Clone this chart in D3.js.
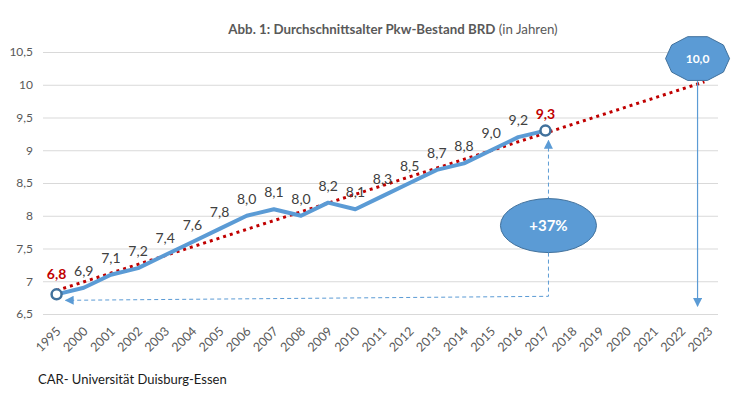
<!DOCTYPE html>
<html>
<head>
<meta charset="utf-8">
<script src="https://cdn.jsdelivr.net/npm/d3@7"></script>
<style>
  body { margin: 0; background: #fff; }
  text { font-family: Lato, "Noto Sans", sans-serif; }
</style>
</head>
<body>
<svg id="chart" width="743" height="395"></svg>
<script>
// categories on the x axis (1995, then 2000 - 2023)
var years = ["1995", "2000", "2001", "2002", "2003", "2004", "2005", "2006", "2007",
  "2008", "2009", "2010", "2011", "2012", "2013", "2014", "2015", "2016", "2017",
  "2018", "2019", "2020", "2021", "2022", "2023"]

// average age of cars, known years only
var dataYears = ["1995", "2000", "2001", "2002", "2003", "2004", "2005", "2006", "2007",
  "2008", "2009", "2010", "2011", "2012", "2013", "2014", "2015", "2016", "2017"]
var ages = [6.8, 6.9, 7.1, 7.2, 7.4, 7.6, 7.8, 8.0, 8.1, 8.0, 8.2, 8.1, 8.3, 8.5, 8.7, 8.8, 9.0, 9.2, 9.3]

var yTicks = [6.5, 7, 7.5, 8, 8.5, 9, 9.5, 10, 10.5]

// callouts
var forecastYear = "2023"
var forecastLabel = "10,0"
var growthLabel = "+37%"

var title = "Abb. 1: Durchschnittsalter Pkw-Bestand BRD"
var titleUnit = " (in Jahren)"
var source = "CAR- Universität Duisburg-Essen"

var margin = { top: 52, left: 43, right: 21, bottom: 81 }
var width = 743 - margin.left - margin.right
var height = 395 - margin.top - margin.bottom

var svg = d3.select("#chart")

var comma = function(v) { return d3.format(".1f")(v).replace(".", ",") }
var commaTick = function(v) { return String(v).replace(".", ",") }

var xPositionScale = d3.scaleBand()
  .domain(years)
  .range([margin.left, margin.left + width])

var yPositionScale = d3.scaleLinear()
  .domain([6.5, 10.5])
  .range([margin.top + height, margin.top])

var cx = function(year) { return xPositionScale(year) + xPositionScale.bandwidth() / 2 }

var points = dataYears.map(function(y, i) { return { year: y, value: ages[i] } })

// linear trend (like excel), computed from the data, extended to 2023
var n = ages.length
var meanI = (n - 1) / 2
var meanV = d3.mean(ages)
var num = d3.sum(ages, function(v, i) { return (i - meanI) * (v - meanV) })
var den = d3.sum(ages, function(v, i) { return (i - meanI) * (i - meanI) })
var slope = num / den
var intercept = meanV - slope * meanI
var lastIndex = years.length - 1
var trendEnd = intercept + slope * lastIndex

// title
var t = svg.append("text")
  .attr("x", 393)
  .attr("y", 34)
  .attr("text-anchor", "middle")
  .attr("font-size", 13.3)
  .attr("fill", "#595959")
t.append("tspan").attr("font-weight", "bold").text(title)
t.append("tspan").text(titleUnit)

// y axis with gridlines
var yAxis = d3.axisLeft(yPositionScale)
  .tickValues(yTicks)
  .tickSize(-(width - 4))
  .tickPadding(10)
  .tickFormat(commaTick)

svg.append("g")
  .attr("class", "axis y-axis")
  .attr("transform", "translate(" + margin.left + ",0)")
  .call(yAxis)
  .call(function(g) { g.select(".domain").remove() })
  .call(function(g) {
    g.selectAll("line").attr("stroke", "#d9d9d9")
    g.selectAll("text").attr("fill", "#595959").attr("font-size", 12)
  })

// x axis labels, rotated
var xAxis = d3.axisBottom(xPositionScale).tickSize(0)
svg.append("g")
  .attr("class", "axis x-axis")
  .attr("transform", "translate(0," + (margin.top + height) + ")")
  .call(xAxis)
  .call(function(g) { g.select(".domain").remove() })
  .call(function(g) {
    g.selectAll("text")
      .attr("fill", "#595959")
      .attr("font-size", 12.5)
      .attr("text-anchor", "end")
      .attr("dy", 0)
      .attr("y", 0)
      .attr("transform", "translate(5,18) rotate(-45)")
  })

// trend line
svg.append("line")
  .attr("x1", cx(years[0]))
  .attr("y1", yPositionScale(intercept))
  .attr("x2", cx(years[lastIndex]) - 4)
  .attr("y2", yPositionScale(trendEnd))
  .attr("stroke", "#c00000")
  .attr("stroke-width", 3)
  .attr("stroke-dasharray", "3,4")

// data line
var line = d3.line()
  .x(function(d) { return cx(d.year) })
  .y(function(d) { return yPositionScale(d.value) })

svg.append("path")
  .datum(points)
  .attr("d", line)
  .attr("fill", "none")
  .attr("stroke", "#5b9bd5")
  .attr("stroke-width", 4)
  .attr("stroke-linejoin", "round")

// arrow markers
var defs = svg.append("defs")
defs.append("marker")
  .attr("id", "arrow")
  .attr("viewBox", "0 0 10 10")
  .attr("refX", 9)
  .attr("refY", 5)
  .attr("markerWidth", 9)
  .attr("markerHeight", 9)
  .attr("markerUnits", "userSpaceOnUse")
  .attr("orient", "auto-start-reverse")
  .append("path")
  .attr("d", "M0,0 L10,5 L0,10 Z")
  .attr("fill", "#5b9bd5")

// dashed elbow arrow between 1995 and 2017
var first = points[0]
var last = points[points.length - 1]
var elbowX = cx(last.year) + 3
var elbowY = yPositionScale(6.77)
svg.append("path")
  .attr("d", "M" + elbowX + "," + (yPositionScale(last.value) + 10) +
    " L" + elbowX + "," + elbowY +
    " L" + (cx(first.year) + 9) + "," + (elbowY + 4))
  .attr("fill", "none")
  .attr("stroke", "#5b9bd5")
  .attr("stroke-width", 1)
  .attr("stroke-dasharray", "4,3")
  .attr("marker-start", "url(#arrow)")
  .attr("marker-end", "url(#arrow)")

// end markers
svg.selectAll(".end-marker")
  .data([first, last])
  .enter()
  .append("circle")
  .attr("class", "end-marker")
  .attr("cx", function(d) { return cx(d.year) })
  .attr("cy", function(d) { return yPositionScale(d.value) })
  .attr("r", 5)
  .attr("fill", "#fff")
  .attr("stroke", "#41719c")
  .attr("stroke-width", 2.5)

// data labels
svg.selectAll(".value-label")
  .data(points)
  .enter()
  .append("text")
  .attr("class", "value-label")
  .attr("x", function(d) { return cx(d.year) })
  .attr("y", function(d, i) { return yPositionScale(d.value) - (i === 0 ? 15 : 12) })
  .attr("text-anchor", "middle")
  .attr("font-size", 14)
  .attr("font-weight", function(d, i) { return (i === 0 || i === points.length - 1) ? "bold" : "normal" })
  .attr("fill", function(d, i) { return (i === 0 || i === points.length - 1) ? "#c00000" : "#404040" })
  .text(function(d) { return comma(d.value) })

// growth ellipse
var growthY = yPositionScale(7.85)
svg.append("ellipse")
  .attr("cx", elbowX)
  .attr("cy", growthY)
  .attr("rx", 48)
  .attr("ry", 27)
  .attr("fill", "#5b9bd5")
  .attr("stroke", "#41719c")
  .attr("stroke-width", 1)
svg.append("text")
  .attr("x", elbowX)
  .attr("y", growthY + 5)
  .attr("text-anchor", "middle")
  .attr("font-size", 15)
  .attr("font-weight", "bold")
  .attr("fill", "#fff")
  .text(growthLabel)

// forecast decagon + arrow down to axis
var fx = cx(forecastYear) - xPositionScale.bandwidth() * 0.4
var fy = yPositionScale(10.4)
var octagon = d3.range(10).map(function(k) {
  var a = k / 10 * Math.PI * 2
  return [fx + 32 * Math.cos(a), fy + 23 * Math.sin(a)]
})

svg.append("line")
  .attr("x1", fx)
  .attr("y1", fy + 22)
  .attr("x2", fx)
  .attr("y2", yPositionScale(6.62))
  .attr("stroke", "#5b9bd5")
  .attr("stroke-width", 1.2)
  .attr("marker-end", "url(#arrow)")

svg.append("polygon")
  .attr("points", octagon.map(function(p) { return p.join(",") }).join(" "))
  .attr("fill", "#5b9bd5")
  .attr("stroke", "#41719c")
  .attr("stroke-width", 1)
svg.append("text")
  .attr("x", fx)
  .attr("y", fy + 4)
  .attr("text-anchor", "middle")
  .attr("font-size", 12)
  .attr("font-weight", "bold")
  .attr("fill", "#fff")
  .text(forecastLabel)

// source
svg.append("text")
  .attr("x", 38)
  .attr("y", 384)
  .attr("font-size", 13)
  .attr("fill", "#1a1a1a")
  .text(source)
</script>
</body>
</html>
